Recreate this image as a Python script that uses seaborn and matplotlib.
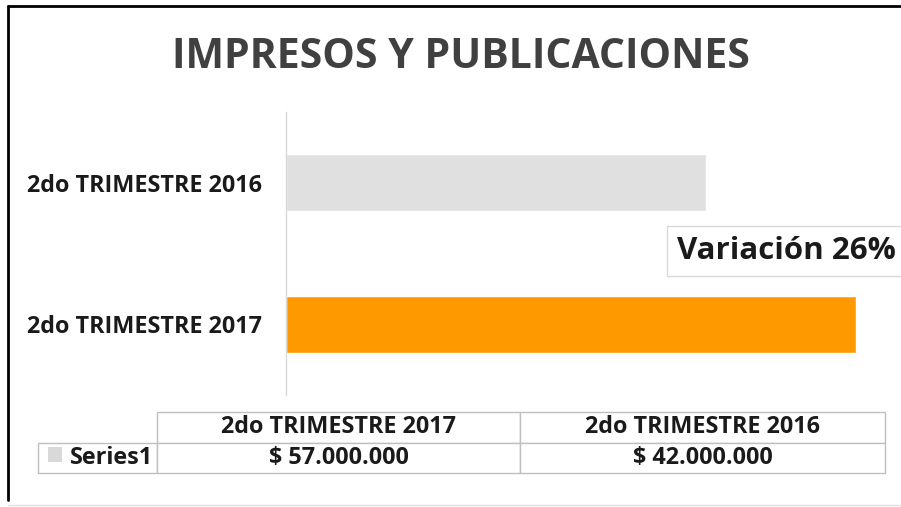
import pandas as pd
import matplotlib.pyplot as plt
import seaborn as sns
from matplotlib.lines import Line2D
from matplotlib.patches import Rectangle

# data
categories = ['2do TRIMESTRE 2017', '2do TRIMESTRE 2016']
values = [57000000, 42000000]
value_labels = ['$ 57.000.000', '$ 42.000.000']
series_name = 'Series1'
bar_colors = {'2do TRIMESTRE 2017': '#FF9900', '2do TRIMESTRE 2016': '#E0E0E0'}
title = 'IMPRESOS Y PUBLICACIONES'
note = 'Variación 26%'

sns.set_style('white')
plt.rcParams['font.family'] = ['Open Sans', 'DejaVu Sans']

df = pd.DataFrame({'Periodo': categories, 'Monto': values})

W, H = 901, 507
fig = plt.figure(figsize=(W / 100, H / 100), dpi=100)


def box(x0, y0, x1, y1):
    # pixel box (top-left origin) -> figure fraction rect
    return [x0 / W, 1 - y1 / H, (x1 - x0) / W, (y1 - y0) / H]


ax = fig.add_axes(box(286, 112, 886, 395))
sns.barplot(data=df, x='Monto', y='Periodo', hue='Periodo', palette=bar_colors,
            order=categories[::-1], width=0.4, legend=False, ax=ax, saturation=1)
ax.set_xlim(0, 60000000)
ax.set_ylim(1.5, -0.5)
ax.set_xlabel('')
ax.set_ylabel('')
ax.set_xticks([])
for s in ['top', 'right', 'bottom']:
    ax.spines[s].set_visible(False)
ax.spines['left'].set_color('#D9D9D9')
ax.spines['left'].set_linewidth(1)
ax.tick_params(axis='y', length=0, pad=17)
for lbl in ax.get_yticklabels():
    lbl.set_fontweight('bold')
    lbl.set_fontsize(16.8)
    lbl.set_color('#1a1a1a')

fig.text(461 / W, 1 - 57 / H, title, ha='center', va='center', fontsize=29.5,
         fontweight='bold', color='#404040')

fig.text(677 / W, 1 - 251 / H, note, ha='left', va='center', fontsize=22.5,
         fontweight='bold', color='#1a1a1a',
         bbox=dict(boxstyle='square,pad=0.33', facecolor='white', edgecolor='#D9D9D9', lw=1))

# data table under the chart
tax = fig.add_axes(box(38, 412, 885, 473))
tax.axis('off')
tbl = tax.table(cellText=[[series_name] + value_labels], colLabels=[''] + categories,
                colWidths=[119 / 847, 363 / 847, 365 / 847],
                cellLoc='center', bbox=[0, 0, 1, 1])
tbl.auto_set_font_size(False)
for (r, c), cell in tbl.get_celld().items():
    cell.set_edgecolor('#BFBFBF')
    cell.set_linewidth(1)
    cell.get_text().set_fontweight('bold')
    cell.get_text().set_color('#1a1a1a')
    cell.get_text().set_fontsize(16.8)
tbl[(0, 0)].visible_edges = ''
tbl[(1, 0)].get_text().set_ha('right')
tbl[(1, 0)].PAD = 0.03
tax.add_patch(Rectangle((10 / 847, 0.18), 14 / 847, 0.24, transform=tax.transAxes,
                        facecolor='#D9D9D9', edgecolor='none', zorder=5))

# outer frame of the chart area
fig.add_artist(Line2D([8 / W, 1], [1 - 6 / H, 1 - 6 / H], color='black', lw=2))
fig.add_artist(Line2D([8 / W, 8 / W], [1 - 6 / H, 1 - 500 / H], color='black', lw=2))
fig.add_artist(Line2D([8 / W, 1], [1 - 505 / H, 1 - 505 / H], color='#E0E0E0', lw=1))

fig.savefig('out.png', dpi=100)
